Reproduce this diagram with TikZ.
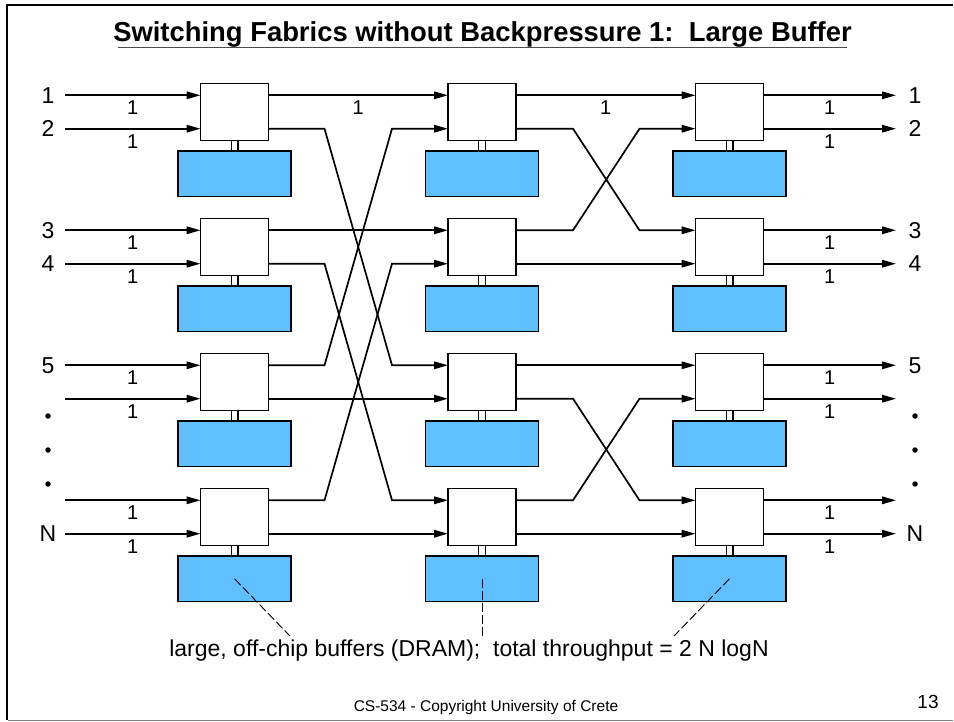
\documentclass[tikz,border=0pt]{standalone}
\usepackage{fontspec}
\setmainfont{Liberation Sans}
\usepackage{tikz}
\usetikzlibrary{arrows.meta,positioning}
\definecolor{bufblue}{RGB}{96,191,255}

\begin{document}
\begin{tikzpicture}[x=1pt,y=-1pt,node distance=78pt and 179.5pt,>={Triangle[length=14pt,width=7.5pt]},line width=1.7pt,
  switch/.style={rectangle,draw,fill=white,minimum width=68pt,minimum height=57pt,inner sep=0pt,outer sep=0pt,line width=1.8pt},
  buffer/.style={rectangle,draw,fill=bufblue,minimum width=113pt,minimum height=45.5pt,inner sep=0pt,outer sep=0pt,line width=1.8pt,below=10.5pt of #1},
  top port/.style={yshift=16.7pt},
  bot port/.style={yshift=-16.7pt},
  lbl/.style={midway,below=5pt,inner sep=0pt,font=\fontsize{20}{20}\selectfont},
  pnum/.style={inner sep=0pt,font=\fontsize{23}{23}\selectfont},
  dot/.style={circle,fill,inner sep=0pt,minimum size=5.5pt},
  leader/.style={line width=0.9pt,dash pattern=on 9pt off 3pt}]
\useasboundingbox (0,0) rectangle (954,722);

% slide frame
\draw[line width=2.5pt] (953,5) -- (7,5) -- (7,720);
\draw[line width=1.8pt,black!50] (8,720.5) -- (953,720.5);

\node (title) at (482.5,34) [inner sep=0pt,font=\bfseries\fontsize{27.4}{27.4}\selectfont] {Switching Fabrics without Backpressure 1:\ \ Large Buffer};
\draw[line width=1pt,black!70] ([xshift=6pt,yshift=-6.5pt]title.base west) -- ([xshift=-6pt,yshift=-6.5pt]title.base east);

% switches
\node (a1) [switch] at (234.5,112) {};
\node (a2) [switch,below=of a1] {};
\node (a3) [switch,below=of a2] {};
\node (a4) [switch,below=of a3] {};
\node (b1) [switch,right=of a1] {};
\node (b2) [switch,right=of a2] {};
\node (b3) [switch,right=of a3] {};
\node (b4) [switch,right=of a4] {};
\node (c1) [switch,right=of b1] {};
\node (c2) [switch,right=of b2] {};
\node (c3) [switch,right=of b3] {};
\node (c4) [switch,right=of b4] {};

% off-chip buffers
\foreach \s in {a1,a2,a3,a4,b1,b2,b3,b4,c1,c2,c3,c4} {
  \node (m\s) [buffer=\s] {};
  \draw[fill=white,line width=1.4pt] ([xshift=-3.3pt]\s.south) rectangle ([xshift=3.3pt]m\s.north);
}

% inputs
\coordinate (i1) at (65,95.3);
\coordinate (i2) at (65,128.7);
\coordinate (i3) at (65,230.3);
\coordinate (i4) at (65,263.7);
\coordinate (i5) at (65,365.3);
\coordinate (i6) at (65,398.7);
\coordinate (i7) at (65,500.3);
\coordinate (i8) at (65,533.7);
\draw[->] (i1) -- (i1 -| a1.west) node[lbl] {1};
\draw[->] (i2) -- (i2 -| a1.west) node[lbl] {1};
\draw[->] (i3) -- (i3 -| a2.west) node[lbl] {1};
\draw[->] (i4) -- (i4 -| a2.west) node[lbl] {1};
\draw[->] (i5) -- (i5 -| a3.west) node[lbl] {1};
\draw[->] (i6) -- (i6 -| a3.west) node[lbl] {1};
\draw[->] (i7) -- (i7 -| a4.west) node[lbl] {1};
\draw[->] (i8) -- (i8 -| a4.west) node[lbl] {1};

\node (n1) [pnum] at (48,95.3) {1};
\node (n2) [pnum] at (48,128.7) {2};
\node (n3) [pnum] at (48,230.3) {3};
\node (n4) [pnum] at (48,263.7) {4};
\node (n5) [pnum] at (48,365.3) {5};
\node (d1) [dot] at (48,416) {};
\node (d2) [dot] at (48,450) {};
\node (d3) [dot] at (48,484) {};
\node (nN) [pnum] at (48,533.7) {N};

% stage 1
\draw[->] ([top port]a1.east) -- ([top port]b1.west) node[lbl] {1};
\draw[->] ([bot port]a1.east) -- ++(56,0) -- ([top port,xshift=-56pt]b3.west) -- ([top port]b3.west);
\draw[->] ([top port]a2.east) -- ([top port]b2.west);
\draw[->] ([bot port]a2.east) -- ++(56,0) -- ([top port,xshift=-56pt]b4.west) -- ([top port]b4.west);
\draw[->] ([top port]a3.east) -- ++(56,0) -- ([bot port,xshift=-56pt]b1.west) -- ([bot port]b1.west);
\draw[->] ([bot port]a3.east) -- ([bot port]b3.west);
\draw[->] ([top port]a4.east) -- ++(56,0) -- ([bot port,xshift=-56pt]b2.west) -- ([bot port]b2.west);
\draw[->] ([bot port]a4.east) -- ([bot port]b4.west);

% stage 2
\draw[->] ([top port]b1.east) -- ([top port]c1.west) node[lbl] {1};
\draw[->] ([bot port]b1.east) -- ++(57,0) -- ([top port,xshift=-56pt]c2.west) -- ([top port]c2.west);
\draw[->] ([top port]b2.east) -- ++(57,0) -- ([bot port,xshift=-56pt]c1.west) -- ([bot port]c1.west);
\draw[->] ([bot port]b2.east) -- ([bot port]c2.west);
\draw[->] ([top port]b3.east) -- ([top port]c3.west);
\draw[->] ([bot port]b3.east) -- ++(57,0) -- ([top port,xshift=-56pt]c4.west) -- ([top port]c4.west);
\draw[->] ([top port]b4.east) -- ++(57,0) -- ([bot port,xshift=-56pt]c3.west) -- ([bot port]c3.west);
\draw[->] ([bot port]b4.east) -- ([bot port]c4.west);

% outputs
\coordinate (o1) at (896,95.3);
\coordinate (o2) at (896,128.7);
\coordinate (o3) at (896,230.3);
\coordinate (o4) at (896,263.7);
\coordinate (o5) at (896,365.3);
\coordinate (o6) at (896,398.7);
\coordinate (o7) at (896,500.3);
\coordinate (o8) at (896,533.7);
\draw[->] (o1 -| c1.east) -- (o1) node[lbl] {1};
\draw[->] (o2 -| c1.east) -- (o2) node[lbl] {1};
\draw[->] (o3 -| c2.east) -- (o3) node[lbl] {1};
\draw[->] (o4 -| c2.east) -- (o4) node[lbl] {1};
\draw[->] (o5 -| c3.east) -- (o5) node[lbl] {1};
\draw[->] (o6 -| c3.east) -- (o6) node[lbl] {1};
\draw[->] (o7 -| c4.east) -- (o7) node[lbl] {1};
\draw[->] (o8 -| c4.east) -- (o8) node[lbl] {1};

\node (q1) [pnum] at (915,95.3) {1};
\node (q2) [pnum] at (915,128.7) {2};
\node (q3) [pnum] at (915,230.3) {3};
\node (q4) [pnum] at (915,263.7) {4};
\node (q5) [pnum] at (915,365.3) {5};
\node (e1) [dot] at (915,416) {};
\node (e2) [dot] at (915,450) {};
\node (e3) [dot] at (915,484) {};
\node (qN) [pnum] at (915,533.7) {N};

% note
\node (note) at (469,651) [inner sep=0pt,font=\fontsize{23}{23}\selectfont] {large, off-chip buffers (DRAM);\ \ total throughput = 2 N logN};
\coordinate (l1) at (290,636);
\coordinate (l2) at (482,636);
\coordinate (l3) at (674,636);
\draw[leader] (ma4.center) -- (l1);
\draw[leader] (mb4.center) -- (l2);
\draw[leader] (mc4.center) -- (l3);

\node (foot) at (486,707) [inner sep=0pt,font=\fontsize{15.5}{15.5}\selectfont] {CS-534 - Copyright University of Crete};
\node (page) at (928,702) [inner sep=0pt,font=\fontsize{19}{19}\selectfont] {13};
\end{tikzpicture}
\end{document}
